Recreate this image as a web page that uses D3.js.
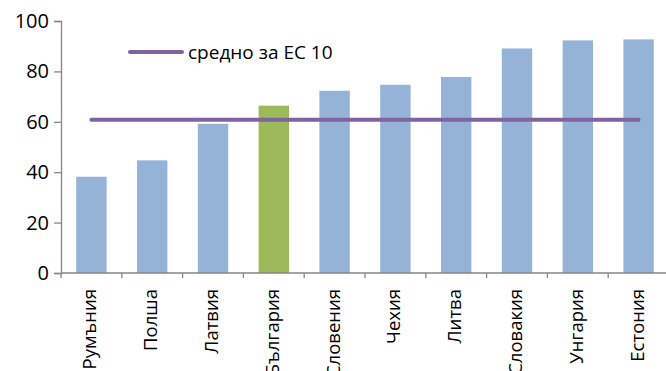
<!DOCTYPE html>
<html>
<head>
<meta charset="utf-8">
<script src="https://cdn.jsdelivr.net/npm/d3@7"></script>
<style>
  html, body { margin: 0; padding: 0; background: #fff; }
  svg { display: block; font-family: "Open Sans", sans-serif; }
</style>
</head>
<body>
<div id="chart"></div>
<script>
// Countries, sorted by value
const countries = ["Румъния", "Полша", "Латвия", "България", "Словения", "Чехия", "Литва", "Словакия", "Унгария", "Естония"];
const values = [38.2, 44.7, 59.2, 66.4, 72.3, 74.7, 77.8, 89.1, 92.3, 92.7];
const highlighted = ["България"];
const averageLabel = "средно за ЕС 10";
const averageValue = 60.8;
const yTicks = [0, 20, 40, 60, 80, 100];

const width = 666, height = 371;
const margin = { top: 21, right: -3, bottom: 98, left: 61 };

const svg = d3.select("#chart").append("svg")
  .attr("width", width).attr("height", height);

const x = d3.scaleBand()
  .domain(countries)
  .range([margin.left, width - margin.right])
  .paddingInner(0.5).paddingOuter(0.25);

const y = d3.scaleLinear()
  .domain([0, 100])
  .range([height - margin.bottom, margin.top]);

const axisColor = "#868686";

// Bars
svg.append("g").selectAll("rect")
  .data(countries)
  .join("rect")
  .attr("x", d => x(d))
  .attr("width", x.bandwidth())
  .attr("y", (d, i) => y(values[i]))
  .attr("height", (d, i) => y(0) - y(values[i]))
  .attr("fill", d => highlighted.includes(d) ? "#9bbb59" : "#95b3d7");

// Y axis
const yAxis = svg.append("g")
  .attr("transform", `translate(${margin.left},0)`)
  .call(d3.axisLeft(y).tickValues(yTicks).tickSize(7).tickPadding(5));
yAxis.select(".domain").attr("stroke", axisColor).attr("stroke-width", 1.3);
yAxis.selectAll(".tick line").attr("stroke", axisColor).attr("stroke-width", 1.3);
yAxis.selectAll("text").attr("font-size", 20).attr("fill", "#000")
  .attr("font-family", "Open Sans, sans-serif");

// X axis: ticks between the categories
const bandStep = x.step();
const xEdges = d3.range(countries.length + 1).map(i => x.range()[0] + i * bandStep);
const xg = svg.append("g");
xg.append("line")
  .attr("x1", margin.left).attr("x2", width)
  .attr("y1", y(0)).attr("y2", y(0))
  .attr("stroke", axisColor).attr("stroke-width", 1.3);
xg.selectAll("line.tick")
  .data(xEdges)
  .join("line")
  .attr("class", "tick")
  .attr("x1", d => d).attr("x2", d => d)
  .attr("y1", y(0)).attr("y2", y(0) + 5)
  .attr("stroke", axisColor).attr("stroke-width", 1.3);
xg.selectAll("text")
  .data(countries)
  .join("text")
  .attr("transform", d => `translate(${x(d) + x.bandwidth() / 2 + 5},${y(0) + 16}) rotate(-90)`)
  .attr("text-anchor", "end")
  .attr("font-size", 18.5)
  .attr("fill", "#000")
  .text(d => d);

// Average line across the band centres
const firstC = x(countries[0]) + x.bandwidth() / 2;
const lastC = x(countries[countries.length - 1]) + x.bandwidth() / 2;
svg.append("line")
  .attr("x1", firstC).attr("x2", lastC)
  .attr("y1", y(averageValue)).attr("y2", y(averageValue))
  .attr("stroke", "#8064a2").attr("stroke-width", 4).attr("stroke-linecap", "round");

// Legend
const legend = svg.append("g").attr("transform", "translate(130,52)");
legend.append("line")
  .attr("x1", 0).attr("x2", 52).attr("y1", 0).attr("y2", 0)
  .attr("stroke", "#8064a2").attr("stroke-width", 4).attr("stroke-linecap", "round");
legend.append("text")
  .attr("x", 58).attr("y", 7)
  .attr("font-size", 19)
  .attr("fill", "#000")
  .text(averageLabel);
</script>
</body>
</html>
